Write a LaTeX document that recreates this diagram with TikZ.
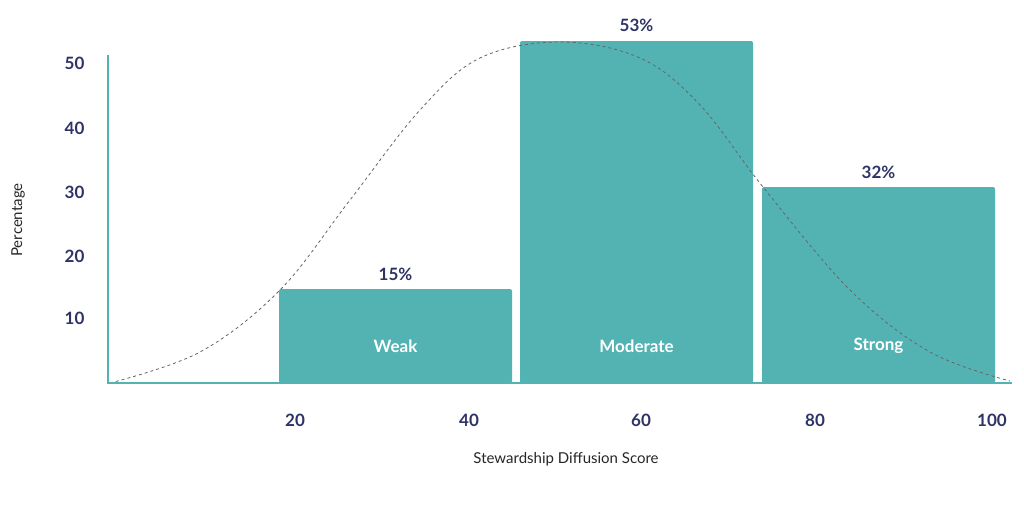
\documentclass[tikz,border=0pt]{standalone}
\usepackage{fontspec}
\setmainfont{Lato}
\usepackage{tikz}
\definecolor{teal1}{HTML}{53B3B3}
\definecolor{navy}{HTML}{2E3366}
\begin{document}
\begin{tikzpicture}[x=1pt, y=-1pt, every node/.style={font=\bfseries\fontsize{17}{20}\selectfont, text=navy}]
  % canvas
  \useasboundingbox (0,0) rectangle (1024,530);

  % bars
  \tikzset{bar/.style={fill=teal1, rounded corners=2pt}}
  \fill[bar] (279,383) rectangle (512,289);
  \fill[bar] (520,383) rectangle (753,41);
  \fill[bar] (762,383) rectangle (995,187);

  % bar names
  \node[text=white] (weak) at (395.5,346) {Weak};
  \node[text=white] (moderate) at (636.5,346) {Moderate};
  \node[text=white] (strong) at (878.5,346) {Strong};

  % percentages
  \node (pweak) at (395.5,274) {15\%};
  \node (pmod) at (636.5,25) {53\%};
  \node (pstrong) at (878.5,172) {32\%};

  % fitted curve
  \draw[gray!80!black, dashed, thick] plot[smooth, tension=0.6] coordinates
    {(110,383) (200,352) (280,290) (350,200) (420,110) (480,58) (560,42)
     (640,58) (700,105) (763,187) (850,290) (930,352) (1010,381)};

  % axes
  \draw[teal1, line width=1.5pt] (108,55) -- (108,383) -- (1012,383);

  % y ticks
  \foreach \v/\py in {50/63, 40/128, 30/192, 20/256, 10/318}
    \node[anchor=east] at (88,\py) {\v};
  % x ticks
  \foreach \v/\px in {20/295, 40/469, 60/641, 80/815, 100/992}
    \node at (\px,420) {\v};

  % axis titles
  \node[font=\fontsize{15}{18}\selectfont, text=black!85] (xtitle) at (566,459) {Stewardship Diffusion Score};
  \node[font=\fontsize{15}{18}\selectfont, text=black!85, rotate=90] (ytitle) at (18,220) {Percentage};
\end{tikzpicture}
\end{document}
